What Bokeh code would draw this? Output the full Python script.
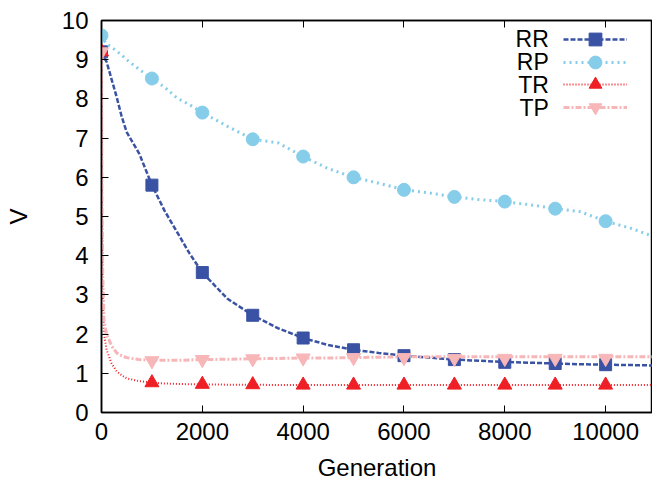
from bokeh.plotting import figure
from bokeh.models import (Range1d, FixedTicker, LinearAxis, Legend, LegendItem, Label,
                          CustomLabelingPolicy)
from bokeh.embed import file_html
from bokeh.resources import INLINE

# ---- data ----
gen = [0, 10, 25, 50, 100, 200, 300, 400, 500, 750, 1000, 1250, 1500, 1750, 2000,
       2500, 3000, 3500, 4000, 4500, 5000, 5500, 6000, 6500, 7000, 7500, 8000,
       8500, 9000, 9500, 10000, 10500, 10930]
rr = [9.2, 9.17, 9.12, 9.05, 8.95, 8.5, 8.05, 7.55, 7.15, 6.6, 5.8, 5.15, 4.6, 4.05, 3.57,
      2.9, 2.48, 2.15, 1.9, 1.72, 1.6, 1.52, 1.45, 1.4, 1.35, 1.32, 1.29,
      1.27, 1.25, 1.23, 1.22, 1.21, 1.2]
rp = [9.62, 9.6, 9.55, 9.5, 9.4, 9.32, 9.22, 9.12, 9.0, 8.75, 8.52, 8.3, 8.02, 7.85, 7.65,
      7.3, 6.97, 6.88, 6.53, 6.22, 6.0, 5.85, 5.68, 5.6, 5.5, 5.43, 5.38,
      5.3, 5.2, 5.12, 4.88, 4.7, 4.5]
tr = [9.2, 5.0, 3.0, 2.0, 1.6, 1.25, 1.05, 0.95, 0.87, 0.8, 0.76, 0.74, 0.73, 0.72, 0.72,
      0.71, 0.71, 0.7, 0.7, 0.7, 0.7, 0.7, 0.7, 0.7, 0.7, 0.7, 0.7,
      0.7, 0.7, 0.7, 0.7, 0.7, 0.7]
tp = [9.2, 5.5, 3.5, 2.35, 2.0, 1.7, 1.52, 1.45, 1.4, 1.35, 1.33, 1.33, 1.33, 1.34, 1.35,
      1.36, 1.37, 1.38, 1.39, 1.39, 1.4, 1.41, 1.42, 1.42, 1.42, 1.42, 1.42,
      1.42, 1.42, 1.42, 1.42, 1.42, 1.42]

mgen = [0, 1000, 2000, 3000, 4000, 5000, 6000, 7000, 8000, 9000, 10000]
rr_m = [9.2, 5.8, 3.57, 2.48, 1.9, 1.6, 1.45, 1.35, 1.28, 1.25, 1.22]
rp_m = [9.62, 8.52, 7.65, 6.97, 6.53, 6.0, 5.68, 5.5, 5.38, 5.2, 4.88]
tr_m = [9.2, 0.76, 0.72, 0.71, 0.7, 0.7, 0.7, 0.7, 0.7, 0.7, 0.7]
tp_m = [9.2, 1.32, 1.35, 1.37, 1.39, 1.4, 1.4, 1.38, 1.38, 1.38, 1.38]

labels = ["RR", "RP", "TR", "TP"]
xticks = [0, 2000, 4000, 6000, 8000, 10000]
yticks = [0, 1, 2, 3, 4, 5, 6, 7, 8, 9, 10]
x_title = "Generation"
y_title = "V"

FONT = "Liberation Sans"
C_RR, C_RP, C_TR, C_TP = "#3a52a3", "#86cdea", "#ee2026", "#f7b6b8"
X_END = 10930

p = figure(width=652, height=483, x_range=Range1d(0, X_END), y_range=Range1d(0, 10),
           output_backend="svg", toolbar_location=None,
           min_border_left=101, min_border_right=0, min_border_top=20, min_border_bottom=71)
p.grid.visible = False
p.outline_line_color = "black"
p.outline_line_width = 1.5
p.background_fill_color = "white"
p.border_fill_color = "white"

for ax in (p.xaxis[0], p.yaxis[0]):
    ax.major_tick_in = 7
    ax.major_tick_out = 0
    ax.minor_tick_in = 0
    ax.minor_tick_out = 0
    ax.axis_line_color = "black"
    ax.axis_line_width = 1.5
    ax.major_tick_line_color = "black"
    ax.major_label_text_font = FONT
    ax.major_label_text_font_size = "24px"
    ax.major_label_text_color = "black"
    ax.axis_label_text_font = FONT
    ax.axis_label_text_font_size = "24px"
    ax.axis_label_text_font_style = "normal"
    ax.axis_label_text_color = "black"

p.xaxis.ticker = FixedTicker(ticks=xticks)
p.yaxis.ticker = FixedTicker(ticks=yticks)
p.xaxis.axis_label = x_title
p.yaxis.axis_label = y_title
p.xaxis.major_label_standoff = 10
p.xaxis.axis_label_standoff = 11
p.yaxis.major_label_standoff = 13
p.yaxis.axis_label_standoff = 27

hide_all = CustomLabelingPolicy(code="""
for (const i of indices) { indices.unset(i) }
return indices
""")
top = LinearAxis(ticker=FixedTicker(ticks=xticks), major_label_text_font_size="1px",
                 major_label_policy=hide_all,
                 major_tick_in=7, major_tick_out=0, minor_tick_in=0, minor_tick_out=0,
                 major_label_standoff=0, axis_line_width=1.5)
p.add_layout(top, "above")

l_rr = p.line(gen, rr, line_color=C_RR, line_width=2.5, line_dash="5 2")
s_rr = p.scatter(mgen, rr_m, marker="square", size=12, fill_color=C_RR, line_color=C_RR)
l_rp = p.line(gen, rp, line_color=C_RP, line_width=3, line_dash="2 4")
s_rp = p.scatter(mgen, rp_m, marker="circle", size=13, fill_color=C_RP, line_color=C_RP)
l_tr = p.line(gen, tr, line_color=C_TR, line_width=2, line_dash="1 2")
s_tr = p.scatter(mgen, tr_m, marker="triangle", size=14, fill_color=C_TR, line_color=C_TR)
l_tp = p.line(gen, tp, line_color=C_TP, line_width=3, line_dash="6 2 2 2")
s_tp = p.scatter(mgen, tp_m, marker="inverted_triangle", size=14, fill_color=C_TP, line_color=C_TP)

# one single-row legend per series (keys only; texts are drawn to their left)
pairs = [(l_rr, s_rr), (l_rp, s_rp), (l_tr, s_tr), (l_tp, s_tp)]
legend_bottoms = [357, 334, 312, 289]
for (ln, sc), yb in zip(pairs, legend_bottoms):
    lg = Legend(items=[LegendItem(label=" ", renderers=[ln, sc])],
                location=(462, yb), glyph_width=64, glyph_height=32, spacing=0,
                label_width=0, label_standoff=0, padding=0, margin=0,
                border_line_color=None, background_fill_alpha=0,
                label_text_font_size="10px")
    p.add_layout(lg)

label_y = [9.52, 8.94, 8.36, 7.78]
for t, yv in zip(labels, label_y):
    p.add_layout(Label(x=8873, y=yv, text=t, text_align="right", text_baseline="middle",
                       text_font=FONT, text_font_size="23px", text_color="black"))

open("out.html", "w").write(file_html(p, INLINE))
